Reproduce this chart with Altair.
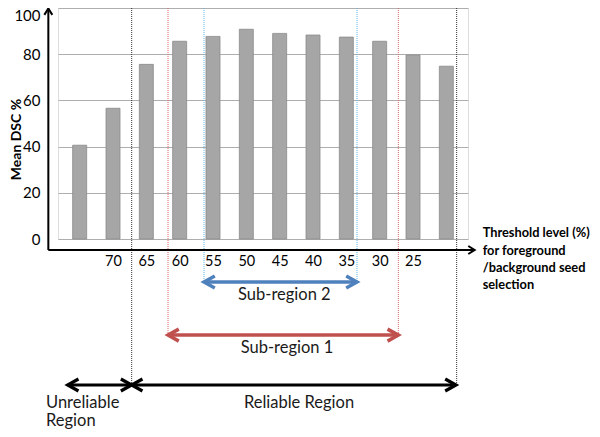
import json
import altair as alt
import pandas as pd

# ---------------- data ----------------
bar_values = [40.6, 56.6, 75.6, 85.6, 87.7, 90.8, 89.0, 88.3, 87.4, 85.6, 79.7, 74.8]
tick_labels = ["", "70", "65", "60", "55", "50", "45", "40", "35", "30", "25", ""]
y_ticks = [0, 20, 40, 60, 80, 100]

# region boundaries (in bar-slot units) and how far down they reach (in % units)
guide_pos = [2.06, 3.15, 4.23, 8.82, 10.06, 11.81]
guide_end = [-63.2, -41.6, -18.6, -18.6, -41.6, -63.2]
guide_kind = ["reliable", "sub1", "sub2", "sub2", "sub1", "reliable"]

# double-headed range arrows
span_start = [4.23, 3.15, 0.14, 2.06]
span_end = [8.82, 10.06, 2.06, 11.79]
span_level = [-18.6, -41.6, -63.2, -63.2]
span_kind = ["sub2", "sub1", "reliable", "reliable"]

# captions
caption_text = ["Sub-region 2", "Sub-region 1", "Reliable Region"]
caption_pos = [6.64, 6.72, 7.08]
caption_level = [-24.2, -47.2, -70.8]

unrel_text = ["Unreliable", "Region"]
unrel_pos = [-0.51, -0.51]
unrel_level = [-70.9, -79.0]

xtitle_text = ["Threshold level (%)", "for foreground", "/background seed", "selection"]
xtitle_pos = [12.59, 12.59, 12.59, 12.59]
xtitle_level = [2.5, -5.1, -12.7, -19.9]

# axis arrows
axis_left = -0.44
axis_right = 12.35
axis_base = -4.76
axis_top = 99.8

# ---------------- styling ----------------
guide_color = {"sub2": "#5cb8e6", "sub1": "#e06464", "reliable": "#333333"}
arrow_color = {"sub2": "#4f81bd", "sub1": "#c0504d", "reliable": "#000000"}
arrow_width = {"sub2": 3.5, "sub1": 3.5, "reliable": 3.2}

RIGHT = "M -1.8 -1 L 0 0 L -1.8 1"
LEFT = "M 1.8 -1 L 0 0 L 1.8 1"
AX_RIGHT = "M -1.6 -1 L 0 0 L -1.6 1"
AX_UP = "M -1 1.6 L 0 0 L 1 1.6"

x_scale = alt.Scale(domain=[0, 12], nice=False, zero=False)
y_scale = alt.Scale(domain=[0, 100], nice=False, zero=False)

bars_df = pd.DataFrame({
    "pos": [i + 0.5 for i in range(len(bar_values))],
    "value": bar_values,
})
label_values = [i + 0.5 for i, t in enumerate(tick_labels) if t]
label_expr = f"{json.dumps(tick_labels)}[floor(datum.value)]"

bars = alt.Chart(bars_df).mark_bar(
    size=14, color="#a6a6a6", stroke="#8a8a8a", strokeWidth=0.8
).encode(
    x=alt.X("pos:Q", scale=x_scale, axis=alt.Axis(
        values=label_values, labelExpr=label_expr, grid=False, domain=False,
        ticks=False, tickSize=0, labelPadding=22.7, labelBaseline="middle",
        labelFontSize=14.5, labelColor="#000000", labelOverlap=False,
        labelFlush=False, title=None)),
    y=alt.Y("value:Q", scale=y_scale, axis=alt.Axis(
        values=y_ticks, grid=True, gridColor="#aeaeae", gridWidth=1,
        domain=False, ticks=False, tickSize=0, labelPadding=18,
        labelFontSize=15, labelColor="#000000", labelFlush=False,
        labelOffset={"condition": {"test": "datum.value >= 100", "value": 7.5}, "value": 0},
        title="Mean DSC %", titleFontSize=14, titleFontWeight="bold",
        titleColor="#000000", titleX=-41.5, titleY=131, titleAngle=270,
        titleAlign="center", titleBaseline="middle")),
)

layers = [bars]

guides_df = pd.DataFrame({"pos": guide_pos, "end": guide_end, "kind": guide_kind,
                          "top": [100] * len(guide_pos)})
spans_df = pd.DataFrame({"start": span_start, "end": span_end,
                         "level": span_level, "kind": span_kind})

for kind in ["reliable", "sub1", "sub2"]:
    g = guides_df[guides_df.kind == kind]
    layers.append(alt.Chart(g).mark_rule(
        color=guide_color[kind], strokeWidth=1, strokeDash=[1, 1]
    ).encode(x=alt.X("pos:Q", scale=x_scale), y=alt.Y("top:Q", scale=y_scale), y2="end:Q"))

for kind in ["reliable", "sub1", "sub2"]:
    s = spans_df[spans_df.kind == kind]
    c = arrow_color[kind]
    w = arrow_width[kind]
    layers.append(alt.Chart(s).mark_rule(color=c, strokeWidth=w).encode(
        x=alt.X("start:Q", scale=x_scale), x2="end:Q", y=alt.Y("level:Q", scale=y_scale)))
    layers.append(alt.Chart(s).mark_point(
        shape=LEFT, size=144, filled=False, stroke=c, strokeWidth=w, opacity=1,
        strokeJoin="miter").encode(
        x=alt.X("start:Q", scale=x_scale), y=alt.Y("level:Q", scale=y_scale)))
    layers.append(alt.Chart(s).mark_point(
        shape=RIGHT, size=144, filled=False, stroke=c, strokeWidth=w, opacity=1,
        strokeJoin="miter").encode(
        x=alt.X("end:Q", scale=x_scale), y=alt.Y("level:Q", scale=y_scale)))

# axis arrows
axis_df = pd.DataFrame({"left": [axis_left], "right": [axis_right],
                        "base": [axis_base], "top": [axis_top]})
layers.append(alt.Chart(axis_df).mark_rule(color="#000000", strokeWidth=2).encode(
    x=alt.X("left:Q", scale=x_scale), x2="right:Q", y=alt.Y("base:Q", scale=y_scale)))
layers.append(alt.Chart(axis_df).mark_rule(color="#000000", strokeWidth=2).encode(
    x=alt.X("left:Q", scale=x_scale), y=alt.Y("base:Q", scale=y_scale), y2="top:Q"))
layers.append(alt.Chart(axis_df).mark_point(
    shape=AX_RIGHT, size=64, filled=False, stroke="#000000", strokeWidth=2, opacity=1).encode(
    x=alt.X("right:Q", scale=x_scale), y=alt.Y("base:Q", scale=y_scale)))
layers.append(alt.Chart(axis_df).mark_point(
    shape=AX_UP, size=64, filled=False, stroke="#000000", strokeWidth=2, opacity=1).encode(
    x=alt.X("left:Q", scale=x_scale), y=alt.Y("top:Q", scale=y_scale)))

# captions
cap_df = pd.DataFrame({"text": caption_text, "pos": caption_pos, "level": caption_level})
layers.append(alt.Chart(cap_df).mark_text(
    fontSize=16.5, color="#1a1a1a", align="center", baseline="middle").encode(
    x=alt.X("pos:Q", scale=x_scale), y=alt.Y("level:Q", scale=y_scale), text="text:N"))

unrel_df = pd.DataFrame({"text": unrel_text, "pos": unrel_pos, "level": unrel_level})
layers.append(alt.Chart(unrel_df).mark_text(
    fontSize=16.5, color="#1a1a1a", align="left", baseline="middle").encode(
    x=alt.X("pos:Q", scale=x_scale), y=alt.Y("level:Q", scale=y_scale), text="text:N"))

xt_df = pd.DataFrame({"text": xtitle_text, "pos": xtitle_pos, "level": xtitle_level})
layers.append(alt.Chart(xt_df).mark_text(
    fontSize=12.8, fontWeight="bold", color="#000000", align="left", baseline="middle").encode(
    x=alt.X("pos:Q", scale=x_scale), y=alt.Y("level:Q", scale=y_scale), text="text:N"))

chart = alt.layer(*layers).properties(
    width=410, height=231,
    autosize=alt.AutoSizeParams(type="none"),
    padding={"left": 50, "top": 0, "right": 124, "bottom": 190},
).configure_view(fill="#e6e6e6", stroke=None).configure(font="Lato")

chart.save("out.html", embed_options={"renderer": "svg", "actions": False})
